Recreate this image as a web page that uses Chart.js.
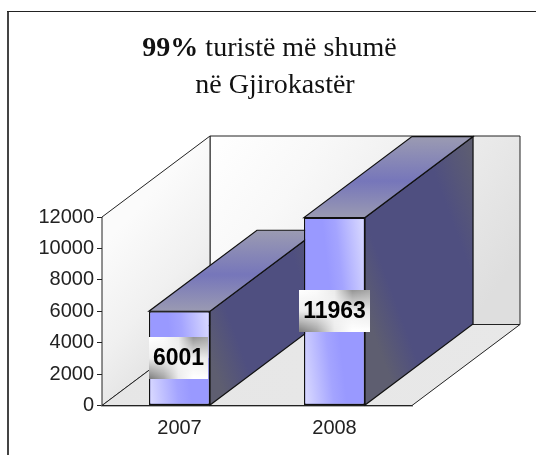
<!DOCTYPE html>
<html>
<head>
<meta charset="utf-8">
<title>99% turistë më shumë në Gjirokastër</title>
<script src="https://cdn.jsdelivr.net/npm/chart.js@4"></script>
<style>
  html, body { margin: 0; padding: 0; background: #fff; }
  canvas { display: block; }
</style>
</head>
<body>
<canvas id="myChart" width="536" height="455"></canvas>
<script>
var years = ['2007', '2008'];
var tourists = [6001, 11963];
var yTicks = [0, 2000, 4000, 6000, 8000, 10000, 12000];
var titleBold = '99%';
var titleRest = ' turistë më shumë';
var titleLine2 = 'në Gjirokastër';

var depthX = 108;
var depthY = -81;
var sansFont = '"Liberation Sans", Arial, sans-serif';
var serifFont = '"Liberation Serif", "Times New Roman", serif';

function poly(c, pts, fill) {
  c.beginPath();
  c.moveTo(pts[0][0], pts[0][1]);
  for (var i = 1; i < pts.length; i++) c.lineTo(pts[i][0], pts[i][1]);
  c.closePath();
  c.fillStyle = fill;
  c.fill();
  c.stroke();
}

function grad(c, x0, y0, x1, y1, stops) {
  var g = c.createLinearGradient(x0, y0, x1, y1);
  stops.forEach(function(s) { g.addColorStop(s[0], s[1]); });
  return g;
}

function grey(v) {
  v = Math.round(v);
  return 'rgb(' + v + ',' + v + ',' + v + ')';
}

// plate behind the value labels: top row goes white to grey, bottom row grey to white
function drawPlate(c, x, y, w, h) {
  var topRow = [255, 250, 235, 150, 170];
  var midRow = [238, 240, 244, 240, 232];
  var botRow = [125, 165, 235, 255, 255];
  for (var r = 0; r < h; r++) {
    var t = r / (h - 1), s = [];
    for (var i = 0; i < 5; i++) {
      var v = t < 0.5 ? topRow[i] + (midRow[i] - topRow[i]) * t * 2 : midRow[i] + (botRow[i] - midRow[i]) * (t - 0.5) * 2;
      s.push([i / 4, grey(v)]);
    }
    c.fillStyle = grad(c, x, 0, x + w, 0, s);
    c.fillRect(x, y + r, w, 1);
  }
}

// walls, floor and the depth faces of the bars, all behind the bar fronts
var box3d = {
  id: 'box3d',
  beforeDatasetsDraw: function(chart) {
    var c = chart.ctx, a = chart.chartArea;
    var l = a.left, r = a.right, t = a.top, b = a.bottom;
    c.save();
    c.lineWidth = 1;
    c.strokeStyle = '#222';

    poly(c, [[l + depthX, t + depthY], [r + depthX, t + depthY], [r + depthX, b + depthY], [l + depthX, b + depthY]],
      grad(c, l + depthX, t + depthY, r + depthX - 50, b + depthY, [[0, '#ffffff'], [0.3, '#f8f8f8'], [0.75, '#e8e8e8'], [1, '#dedede']]));
    poly(c, [[l, t], [l + depthX, t + depthY], [l + depthX, b + depthY], [l, b]],
      grad(c, l, t + 30, l + depthX, b - 60, [[0, '#fbfbfb'], [0.5, '#f0f0f0'], [1, '#dedede']]));
    poly(c, [[l, b], [r, b], [r + depthX, b + depthY], [l + depthX, b + depthY]],
      grad(c, l, b, r + depthX, b, [[0, '#e6e6e6'], [1, '#e8e8e8']]));

    c.strokeStyle = '#111';
    c.lineWidth = 1.2;
    chart.getDatasetMeta(0).data.forEach(function(bar) {
      var x1 = bar.x - bar.width / 2, x2 = bar.x + bar.width / 2;
      var top = bar.y, base = bar.base, mid = (top + base) / 2;
      poly(c, [[x2, base], [x2, top], [x2 + depthX, top + depthY], [x2 + depthX, base + depthY]],
        grad(c, x2, mid, x2 + 151, mid - 56, [[0, '#5e5e70'], [0.2, '#4f4f80'], [0.7, '#4f4f80'], [1, '#5f5f70']]));
      poly(c, [[x1, top], [x2, top], [x2 + depthX, top + depthY], [x1 + depthX, top + depthY]],
        grad(c, 0, top, 0, top + depthY, [[0, '#9a9ab2'], [0.45, '#7676ba'], [1, '#9b9bb2']]));
    });
    c.restore();
  },
  afterDatasetsDraw: function(chart) {
    var c = chart.ctx;
    c.save();
    chart.getDatasetMeta(0).data.forEach(function(bar, i) {
      var x1 = bar.x - bar.width / 2, x2 = bar.x + bar.width / 2, w = bar.width;
      var mid = (bar.y + bar.base) / 2;
      // front face shading
      c.fillStyle = grad(c, x1 + w * 0.3, bar.y + w * 0.08, x2, bar.y, [[0, '#9999ff'], [0.3, '#a4a4ff'], [1, '#dcdcff']]);
      c.fillRect(x1 + 1.5, bar.y + 1.5, w - 3, mid - bar.y - 1.5);
      c.fillStyle = grad(c, x1, bar.base, x2 - w * 0.3, bar.base - w * 0.08, [[0, '#dcdcff'], [0.7, '#a4a4ff'], [1, '#9999ff']]);
      c.fillRect(x1 + 1.5, mid, w - 3, bar.base - mid - 1.5);

      // value label on its shaded plate
      var txt = String(tourists[i]);
      c.font = 'bold 23px ' + sansFont;
      var bw = Math.round(c.measureText(txt).width + 8), bh = 42;
      var bx = Math.round(bar.x - bw / 2 - (i === 0 ? 1 : 0)), by = Math.round(mid - bh / 2);
      drawPlate(c, bx, by, bw, bh);
      c.fillStyle = '#000';
      c.textAlign = 'center';
      c.textBaseline = 'middle';
      c.fillText(txt, bx + bw / 2, by + bh / 2 + 1);
    });
    c.restore();
  },
  afterDraw: function(chart) {
    var c = chart.ctx;
    c.save();
    // frame
    c.fillStyle = '#444';
    c.fillRect(7, 11, 2, 444);
    c.fillStyle = '#222';
    c.fillRect(7, 11, 529, 1);
    // title
    c.textBaseline = 'alphabetic';
    c.textAlign = 'left';
    c.fillStyle = '#111';
    c.font = 'bold 28px ' + serifFont;
    var bw = c.measureText(titleBold).width;
    c.font = '28px ' + serifFont;
    var rw = c.measureText(titleRest).width;
    var x = 269.5 - (bw + rw) / 2;
    c.font = 'bold 28px ' + serifFont;
    c.fillText(titleBold, x, 56);
    c.font = '28px ' + serifFont;
    c.fillText(titleRest, x + bw, 56);
    c.textAlign = 'center';
    c.fillText(titleLine2, 275, 93);
    c.restore();
  }
};

var ctx = document.getElementById('myChart').getContext('2d');

var myChart = new Chart(ctx, {
  type: 'bar',
  data: {
    labels: years,
    datasets: [{
      data: tourists,
      backgroundColor: '#9999ff',
      borderColor: '#111',
      borderWidth: 1.5,
      borderSkipped: false,
      barPercentage: 0.394,
      categoryPercentage: 1
    }]
  },
  options: {
    responsive: false,
    animation: false,
    layout: { padding: { top: 217, right: 124, left: 0, bottom: 0 } },
    plugins: {
      legend: { display: false },
      title: { display: false },
      tooltip: { enabled: false }
    },
    scales: {
      x: {
        grid: { display: false },
        border: { color: '#666', width: 1.5 },
        ticks: { color: '#222', font: { family: sansFont, size: 20 }, padding: 3 },
        afterFit: function(s) { s.height = 49.5; }
      },
      y: {
        min: 0,
        max: 12000,
        afterBuildTicks: function(s) { s.ticks = yTicks.map(function(v) { return { value: v }; }); },
        grid: { drawOnChartArea: false, color: '#222', tickLength: 5 },
        border: { color: '#222', width: 1 },
        ticks: { color: '#222', font: { family: sansFont, size: 20 }, padding: 3, callback: function(v) { return String(v); } },
        afterFit: function(s) { s.width = 102; }
      }
    }
  },
  plugins: [box3d]
});
</script>
</body>
</html>
